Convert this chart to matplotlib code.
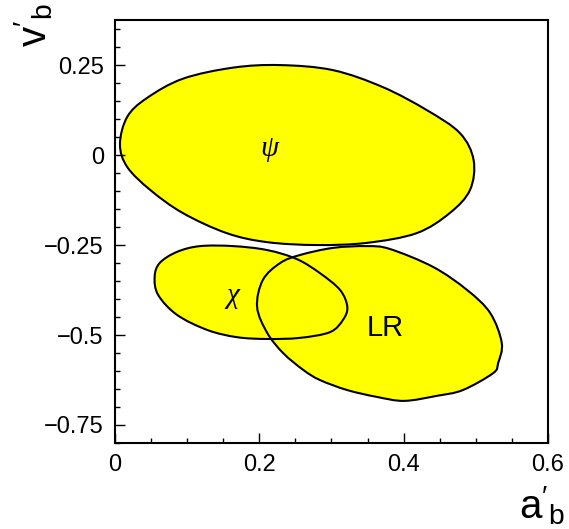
import matplotlib
matplotlib.use('Agg')
import matplotlib.pyplot as plt
import numpy as np
from matplotlib.path import Path
from matplotlib.patches import PathPatch
from matplotlib.ticker import MultipleLocator

plt.rcParams['font.family'] = ['Liberation Sans', 'DejaVu Sans']
plt.rcParams['mathtext.fontset'] = 'custom'
plt.rcParams['mathtext.rm'] = 'Liberation Sans'
plt.rcParams['mathtext.it'] = 'Liberation Serif:italic'

# Contour outlines (a'_b, v'_b)
psi_x = [0.007, 0.017, 0.044, 0.094, 0.164, 0.229, 0.302, 0.371, 0.432, 0.478,
         0.497, 0.492, 0.464, 0.418, 0.349, 0.280, 0.211, 0.155, 0.094, 0.049, 0.017]
psi_y = [0.030, 0.106, 0.158, 0.212, 0.243, 0.250, 0.236, 0.189, 0.125, 0.061,
         -0.014, -0.097, -0.161, -0.217, -0.244, -0.250, -0.242, -0.217, -0.161, -0.097, -0.033]

chi_x = [0.055, 0.062, 0.086, 0.118, 0.164, 0.211, 0.252, 0.284, 0.312, 0.322,
         0.316, 0.298, 0.256, 0.211, 0.169, 0.128, 0.086, 0.060]
chi_y = [-0.339, -0.300, -0.269, -0.253, -0.253, -0.264, -0.289, -0.328, -0.375, -0.422,
         -0.458, -0.492, -0.508, -0.511, -0.506, -0.486, -0.444, -0.389]

lr_x = [0.197, 0.205, 0.229, 0.256, 0.302, 0.349, 0.381, 0.441, 0.488, 0.520,
        0.536, 0.531, 0.524, 0.482, 0.446, 0.401, 0.363, 0.322, 0.284, 0.261,
        0.233, 0.211]
lr_y = [-0.422, -0.347, -0.300, -0.278, -0.258, -0.253, -0.261, -0.311, -0.375, -0.439,
        -0.522, -0.578, -0.606, -0.653, -0.669, -0.683, -0.672, -0.653, -0.625, -0.597,
        -0.550, -0.494]

labels = [r'$\psi$', r'$\chi$', 'LR']
label_x = [0.215, 0.163, 0.374]
label_y = [0.014, -0.394, -0.480]

ytick_vals = [0.25, 0, -0.25, -0.5, -0.75]
ytick_text = ['0.25', '0', '\u22120.25', '\u22120.5', '\u22120.75']
xtick_vals = [0, 0.2, 0.4, 0.6]
xtick_text = ['0', '0.2', '0.4', '0.6']


def smooth_closed_path(xs, ys):
    # closed curve through the points, drawn as cubic Bezier segments
    p = np.column_stack([xs, ys])
    n = len(p)
    verts = [p[0]]
    codes = [Path.MOVETO]
    for i in range(n):
        p0, p1, p2, p3 = p[i - 1], p[i], p[(i + 1) % n], p[(i + 2) % n]
        verts += [p1 + (p2 - p0) / 6, p2 - (p3 - p1) / 6, p2]
        codes += [Path.CURVE4] * 3
    return Path(verts, codes)


fig = plt.figure(figsize=(5.69, 5.29), dpi=100)
ax = fig.add_axes([0.202, 0.1626, 0.761, 0.7994])

for xs, ys in [(psi_x, psi_y), (chi_x, chi_y), (lr_x, lr_y)]:
    ax.add_patch(PathPatch(smooth_closed_path(xs, ys), facecolor='#ffff00',
                           edgecolor='none', zorder=1))
for xs, ys in [(psi_x, psi_y), (chi_x, chi_y), (lr_x, lr_y)]:
    ax.add_patch(PathPatch(smooth_closed_path(xs, ys), facecolor='none',
                           edgecolor='black', linewidth=1.5, zorder=2))

for t, x, y in zip(labels, label_x, label_y):
    ax.text(x, y, t, fontsize=21, ha='center', va='center', zorder=3)

ax.set_xlim(0, 0.6)
ax.set_ylim(-0.8, 0.375)
ax.set_xticks(xtick_vals)
ax.set_xticklabels(xtick_text)
ax.set_yticks(ytick_vals)
ax.set_yticklabels(ytick_text)
ax.xaxis.set_minor_locator(MultipleLocator(0.05))
ax.yaxis.set_minor_locator(MultipleLocator(0.05))
ax.tick_params(which='both', direction='in', labelsize=17, width=1)
ax.tick_params(which='major', length=7, pad=8)
ax.tick_params(which='minor', length=3.5)
for s in ax.spines.values():
    s.set_linewidth(1.5)

fig.text(0.993, 0.003, r"$\mathrm{a}'_\mathrm{b}$", fontsize=29, ha='right', va='bottom')
fig.text(0.022, 0.993, r"$\mathrm{v}'_\mathrm{b}$", fontsize=29, ha='left', va='top', rotation=90)

fig.savefig('out.png', dpi=100)
